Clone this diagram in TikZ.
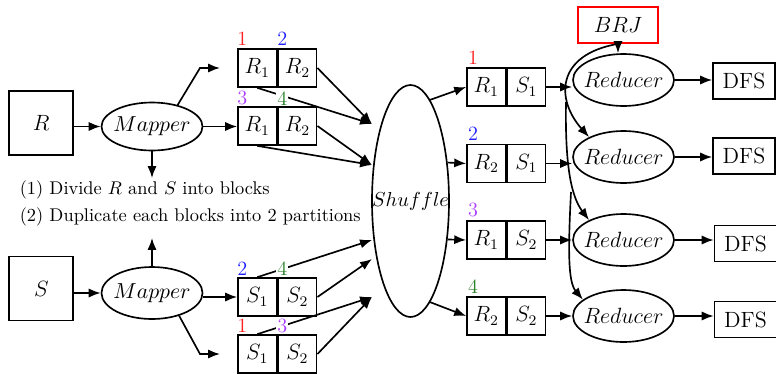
\RequirePackage{fix-cm}
\documentclass[tikz,border=0pt]{standalone}
\usetikzlibrary{shapes.geometric,arrows.meta}
\definecolor{lblred}{RGB}{255,30,30}
\definecolor{lblblue}{RGB}{30,30,255}
\definecolor{lblviolet}{RGB}{170,60,255}
\definecolor{lblgreen}{RGB}{40,130,40}
\newcommand{\pxl}{0.5435pt}
\tikzset{
  every path/.style={line width=0.9pt},
  arr/.style={-{Latex[length=6.5pt,width=5pt]}, line width=0.9pt},
  srcbox/.style={draw, line width=0.9pt, inner sep=0, minimum width=64*\pxl, minimum height=64*\pxl, font=\large},
  mapper/.style={ellipse, draw, line width=0.9pt, inner sep=0, minimum width=101*\pxl, minimum height=48*\pxl, font=\fontsize{11.8}{14}\selectfont},
  cell/.style={draw, line width=0.9pt, inner sep=0, minimum width=38.5*\pxl, minimum height=38*\pxl, font=\large},
  reducer/.style={ellipse, draw, line width=0.9pt, inner sep=0, minimum width=101*\pxl, minimum height=52*\pxl, font=\large},
  dfsbox/.style={draw, line width=0.9pt, inner sep=0, minimum width=62*\pxl, minimum height=36*\pxl, font=\large},
  numlbl/.style={anchor=south west, inner sep=0.6pt, fill=white, font=\fontsize{11}{13}\selectfont},
  txt/.style={anchor=base west, inner sep=0, font=\normalsize}
}
\begin{document}
\begin{tikzpicture}[x=0.5435pt,y=-0.5435pt]
\useasboundingbox (0,0) rectangle (776,373);

% left sources and mappers
\node[srcbox] (R) at (41.3,123) {$R$};
\node[mapper] (M1) at (152,126.5) {\makebox[0pt]{$Mapper$}};
\node[srcbox] (S) at (41.3,288.5) {$S$};
\node[mapper, minimum height=52*\pxl] (M2) at (152,293) {\makebox[0pt]{$Mapper$}};

% blocks from R
\node[cell] (RA1) at (257.25,68) {$R_1$};
\node[cell, anchor=west] (RA2) at (RA1.east) {$R_2$};
\node[cell] (RB1) at (257.25,126) {$R_1$};
\node[cell, anchor=west] (RB2) at (RB1.east) {$R_2$};
% blocks from S
\node[cell] (SA1) at (257.25,297) {$S_1$};
\node[cell, anchor=west] (SA2) at (SA1.east) {$S_2$};
\node[cell] (SB1) at (257.25,354) {$S_1$};
\node[cell, anchor=west] (SB2) at (SB1.east) {$S_2$};

% text
\node[txt] (T1) at (19,194) {(1) Divide $R$ and $S$ into blocks};
\node[txt] (T2) at (19,221) {(2) Duplicate each blocks into 2 partitions};

% shuffle
\node[ellipse, draw, line width=0.9pt, inner sep=0, minimum width=77*\pxl, minimum height=232*\pxl, font=\fontsize{11}{13}\selectfont] (Sh) at (410.5,201) {\makebox[0pt]{$Shuffle$}};

% partitions
\node[cell] (P1a) at (486.25,87) {$R_1$};
\node[cell, anchor=west] (P1b) at (P1a.east) {$S_1$};
\node[cell] (P2a) at (486.25,163.5) {$R_2$};
\node[cell, anchor=west] (P2b) at (P2a.east) {$S_1$};
\node[cell] (P3a) at (486.25,240) {$R_1$};
\node[cell, anchor=west] (P3b) at (P3a.east) {$S_2$};
\node[cell] (P4a) at (486.25,316) {$R_2$};
\node[cell, anchor=west] (P4b) at (P4a.east) {$S_2$};

% reducers
\node[reducer] (Red1) at (623.5,80) {\makebox[0pt]{$Reducer$}};
\node[reducer] (Red2) at (623.5,157) {\makebox[0pt]{$Reducer$}};
\node[reducer] (Red3) at (623.5,240) {\makebox[0pt]{$Reducer$}};
\node[reducer] (Red4) at (623.5,316) {\makebox[0pt]{$Reducer$}};

% DFS
\node[dfsbox] (D1) at (744,81) {DFS};
\node[dfsbox] (D2) at (744,156) {DFS};
\node[dfsbox] (D3) at (745.5,243.5) {DFS};
\node[dfsbox] (D4) at (745.5,319.5) {DFS};

% BRJ
\node[draw=red, line width=0.9pt, inner sep=0, minimum width=80*\pxl, minimum height=36*\pxl, font=\large] (BRJ) at (618,25) {$BRJ$};

% coordinates
\coordinate (m1b) at (200,68);
\coordinate (m1e) at (220,68);
\coordinate (m1d) at (152,178);
\coordinate (m2u) at (152,238);
\coordinate (m2b) at (200,354);
\coordinate (m2e) at (220,354);
\coordinate (in1) at (372,124);
\coordinate (in2) at (372,165);
\coordinate (in3) at (372,240);
\coordinate (in4) at (372,259);
\coordinate (in5) at (372,297);
\coordinate (cB) at (566,102);
\coordinate (cC) at (571,192);

% mapper arrows
\draw[arr] (R.east |- M1.west) -- (M1.west);
\draw[arr] (M1.east) -- (M1.east -| RB1.west);
\draw[arr] (M1.40) -- (m1b) -- (m1e);
\draw[arr] (M1.south) -- (m1d);
\draw[arr] (M2.north) -- (m2u);
\draw[arr] (S.east |- M2.west) -- (M2.west);
\draw[arr] (M2.east |- SA1.west) -- (SA1.west);
\draw[arr] (M2.-40) -- (m2b) -- (m2e);

% blocks to shuffle
\draw[arr] (RA2.east) -- (in1);
\draw[arr] (RA1.south) -- (in1);
\draw[arr] (RB2.east) -- (in2);
\draw[arr] (RB1.south) -- (in2);
\draw[arr] (SA1.north) -- (in3);
\draw[arr] (SA2.east) -- (in4);
\draw[arr] (SB1.north) -- (in5);
\draw[arr] (SB2.east) -- (in5);

% shuffle to partitions
\draw[arr] (Sh.79) -- (P1a.west);
\draw[arr] (Sh.46) -- (P2a.west);
\draw[arr] (Sh.-46) -- (P3a.west);
\draw[arr] (Sh.-79) -- (P4a.west);

% partitions to reducers
\draw[arr] (P1b.east) -- (P1b.east -| Red1.west);
\draw[arr] (P2b.east) -- (P2b.east -| Red2.west);
\draw[arr] (P3b.east) -- (P3b.east -| Red3.west);
\draw[arr] (P4b.east) -- (P4b.east -| Red4.west);

% reducers to DFS
\draw[arr] (Red1.east) -- (Red1.east -| D1.west);
\draw[arr] (Red2.east) -- (Red2.east -| D2.west);
\draw[arr] (Red3.east) -- (Red3.east -| D3.west);
\draw[arr] (Red4.east) -- (Red4.east -| D4.west);

% BRJ links
\draw[arr] (BRJ.south) -- (BRJ.south |- Red1.north);
\draw[arr] (BRJ.south) .. controls (555,55) and (556,100) .. (Red2.150);
\draw[arr] (cB) .. controls (565,160) and (570,195) .. (Red3.150);
\draw[arr] (cC) .. controls (568,250) and (568,282) .. (Red4.158);

% number labels
\node[numlbl, text=lblred, xshift=-1pt, yshift=0.5pt] (nRA1) at (RA1.north west) {1};
\node[numlbl, text=lblblue, xshift=-1pt, yshift=0.5pt] (nRA2) at (RA2.north west) {2};
\node[numlbl, text=lblviolet, xshift=-1pt, yshift=-0.6pt] (nRB1) at (RB1.north west) {3};
\node[numlbl, text=lblgreen, xshift=-1pt, yshift=-0.6pt] (nRB2) at (RB2.north west) {4};
\node[numlbl, text=lblblue, xshift=-1pt, yshift=-0.4pt] (nSA1) at (SA1.north west) {2};
\node[numlbl, text=lblgreen, xshift=-1pt, yshift=-0.4pt] (nSA2) at (SA2.north west) {4};
\node[numlbl, text=lblred, xshift=-1pt, yshift=-0.2pt] (nSB1) at (SB1.north west) {1};
\node[numlbl, text=lblviolet, xshift=-1pt, yshift=-0.2pt] (nSB2) at (SB2.north west) {3};
\node[numlbl, text=lblred, yshift=0.5pt] (nP1) at (P1a.north west) {1};
\node[numlbl, text=lblblue, yshift=0.5pt] (nP2) at (P2a.north west) {2};
\node[numlbl, text=lblviolet, yshift=0.5pt] (nP3) at (P3a.north west) {3};
\node[numlbl, text=lblgreen, yshift=0.5pt] (nP4) at (P4a.north west) {4};
\end{tikzpicture}
\end{document}
